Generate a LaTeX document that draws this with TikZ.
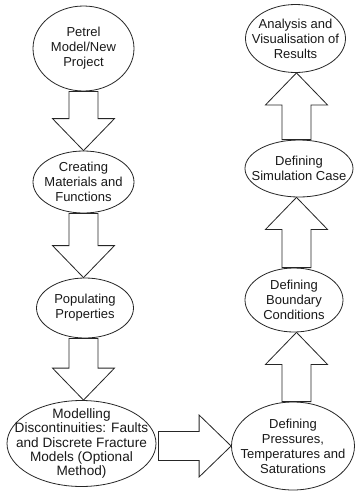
\documentclass[tikz,border=0pt]{standalone}
\usepackage{fontspec}
\setmainfont{Liberation Sans}
\usetikzlibrary{shapes.geometric,calc}
\tikzset{
  stage/.style={ellipse,draw=black!85,line width=0.8pt,fill=white,inner sep=0pt},
  lbl/.style={align=center,font=\fontsize{13}{15}\selectfont,inner sep=0pt,text=black!90},
  lbltight/.style={lbl,font=\fontsize{13.6}{14.3}\selectfont},
  barrow/.style={draw=black!85,line width=0.8pt,fill=white,line join=miter},
}
\newcommand\blockarrow[2]{%
  \coordinate (bh) at ($(#2)!32pt!(#1)$);
  \draw[barrow] ($(#1)!14.5pt!90:(#2)$) -- ($(bh)!14.5pt!-90:(#1)$) -- ($(bh)!31pt!-90:(#1)$) -- (#2)
    -- ($(bh)!31pt!90:(#1)$) -- ($(bh)!14.5pt!90:(#1)$) -- ($(#1)!14.5pt!-90:(#2)$) -- cycle;}
\begin{document}
\begin{tikzpicture}[x=1pt,y=-1pt]
\useasboundingbox[fill=white] (0,0) rectangle (355,491);
% left column
\node[stage,minimum width=101pt,minimum height=85pt,label={[lbl]center:{Petrel\\Model/New\\Project}}] (e1) at (83.5,48.5) {};
\node[stage,minimum width=101pt,minimum height=62pt,label={[lbl]center:{Creating\\Materials and\\Functions}}] (e2) at (83.5,182) {};
\node[stage,minimum width=97pt,minimum height=60pt,label={[lbl]center:{Populating\\Properties}}] (e3) at (85,308) {};
\node[stage,minimum width=149pt,minimum height=86pt,label={[lbltight]center:{Modelling\\Discontinuities: Faults\\and Discrete Fracture\\Models (Optional\\Method)}}] (e4) at (81.5,443.5) {};
% right column
\node[stage,minimum width=123pt,minimum height=88pt,label={[lbl]center:{Defining\\Pressures,\\Temperatures and\\Saturations}}] (e5) at (293,446) {};
\node[stage,minimum width=98pt,minimum height=64pt,label={[lbl]center:{Defining\\Boundary\\Conditions}}] (e6) at (294,300) {};
\node[stage,minimum width=108pt,minimum height=57pt,label={[lbl]center:{Defining\\Simulation Case}}] (e7) at (299,168.5) {};
\node[stage,minimum width=100pt,minimum height=68pt,label={[lbl]center:{Analysis and\\Visualisation of\\Results}}] (e8) at (295.5,38.5) {};
% arrow axes
\coordinate (lc) at (83.5,0);
\coordinate (rc) at (296.5,0);
\coordinate (a1s) at (e1.south -| lc);
\coordinate (a1e) at (e2.north -| lc);
\coordinate (a2s) at (e2.south -| lc);
\coordinate (a2e) at (e3.north -| lc);
\coordinate (a3s) at (e3.south -| lc);
\coordinate (a3e) at (e4.north -| lc);
\coordinate (a4s) at ($(e4.east |- e5.west)+(2,0)$);
\coordinate (a4e) at (e5.west);
\coordinate (a5s) at (e5.north -| rc);
\coordinate (a5e) at (e6.south -| rc);
\coordinate (a6s) at (e6.north -| rc);
\coordinate (a6e) at (e7.south -| rc);
\coordinate (a7s) at (e7.north -| rc);
\coordinate (a7e) at (e8.south -| rc);
\blockarrow{a1s}{a1e}
\blockarrow{a2s}{a2e}
\blockarrow{a3s}{a3e}
\blockarrow{a4s}{a4e}
\blockarrow{a5s}{a5e}
\blockarrow{a6s}{a6e}
\blockarrow{a7s}{a7e}
\end{tikzpicture}
\end{document}
